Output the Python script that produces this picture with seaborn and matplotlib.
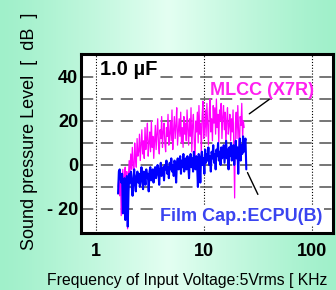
import numpy as np
import pandas as pd
import matplotlib
matplotlib.use("Agg")
import matplotlib.pyplot as plt
import seaborn as sns
from matplotlib.ticker import FixedLocator, NullLocator

# frequency sweep of each measurement (kHz)
mlcc_start, mlcc_stop = 1.6, 23.5
film_start, film_stop = 1.6, 24.6

# sound pressure level (dB)
mlcc_db = [-10, -6, -14, -4, -23, -8, -2, -12, -5, -1, -9,
           -3, -29, -6, 2, -4, 5, -2, 8, 0, -5, 10, 3, -1, 12, 4,
           6, 14, 2, 9, 16, 5, 11, 3, 17, 7, 12, 19, 4, 10, 15, 6, 20, 8, 13, 3,
           11, 18, 7, 14, 21, 9, 5, 16, 12, 22, 8, 15, 19, 10, 6, 17, 13, 23, 9, 14,
           20, 11, 25, 7, 16, 22, 12, 18, 26, 9, 15, 21, 13, 24, 10, 17, 8, 22, 14, 19,
           11, 25, 16, 9, 21, 13, 26, 6, 18, 23, 12, 0, 20, 15, 24,
           10, 27, 14, 19, 5, 22, 29, 12, 17, 25,
           13, 28, 18, 9, 24, 30, 15, 21, 11, 27, 19, 26, 14, 30, 17, 23, 10, 25, 20, 28,
           12, 22, 27, 16, 24, 9, 20, 26, 14, 18, 23, 11, 21, 15, 25,
           8, -15, 19, 24, 12, 27, 16, 5, 22, 18, 28, 13, 20, 17]

film_db = [-13, -3, -2, -6, -8, -4, -22, -10, -6, -25, -9,
           -5, -28, -12, -4, -8, -3, -10, -14, -6, -2, -9, -12, -5, -3, -8,
           -4, -10, -6, -1, -7, -11, -3, -5, -9, -2, -6, -4, -12, -3, -1, -7, -5, -2, -8, -3,
           -1, -6, -4, 0, -3, -9, -2, 1, -5, -3, -1, -7, 0, -2, 2, -4, -1, -6, 1, -2,
           3, -3, 0, -5, 2, -1, -8, 1, 3, -2, 0, 4, -4, 2, -1, 5, -3, 1, 3, -2,
           4, 0, -6, 2, 5, -1, 3, -3, 6, 1, -2, 4, 0, -10, 5,
           2, -8, 4, 6, 0, 3, -4, 7, 1, 5,
           2, 8, 0, 4, -3, 6, 3, 9, 1, 5, -2, 7, 4, 10, 2, 6, 0, 8, 3, 5,
           9, 1, 6, 11, 3, 7, -2, 8, 4, 10, 2, 6, 9, 0, 5,
           11, 3, 8, -4, 7, 12, 2, 9, 5, 13, 6, 10, 12, -2]

yticks = [-20, 0, 20, 40]
ytick_labels = ["- 20", "0", "20", "40"]
ygrid_minor = [-10, 10, 30]
xticks = [1, 10, 100]
xtick_labels = ["1", "10", "100"]

mlcc = pd.DataFrame({"freq": np.geomspace(mlcc_start, mlcc_stop, len(mlcc_db)), "db": mlcc_db})
film = pd.DataFrame({"freq": np.geomspace(film_start, film_stop, len(film_db)), "db": film_db})

sns.set_theme(style="white")
plt.rcParams["font.family"] = ["Liberation Sans", "DejaVu Sans"]

fig = plt.figure(figsize=(3.36, 2.90), dpi=100)

# mint background, lighter in the middle
bg = fig.add_axes([0, 0, 1, 1], zorder=-5)
edge = np.array([160, 240, 202]) / 255
mid = np.array([228, 255, 242]) / 255
t = np.linspace(0, 1, 336)
w = np.clip(1 - np.abs(t - 0.5) / 0.5, 0, 1) ** 1.2
grad = edge[None, :] + (mid - edge)[None, :] * w[:, None]
bg.imshow(grad[None, :, :], aspect="auto", extent=[0, 1, 0, 1])
bg.set_axis_off()

ax = fig.add_axes([0.241, 0.1966, 0.75, 0.6155])
ax.set_facecolor("white")

sns.lineplot(data=mlcc, x="freq", y="db", ax=ax, color="#ff00ff", lw=0.9,
             estimator=None, sort=False)
sns.lineplot(data=film, x="freq", y="db", ax=ax, color="#0000ff", lw=1.5,
             estimator=None, sort=False)

ax.set_xscale("log")
ax.set_xlim(0.726, 156)
ax.set_ylim(-30.9, 50.2)

ax.xaxis.set_major_locator(FixedLocator(xticks))
ax.xaxis.set_minor_locator(NullLocator())
ax.set_xticklabels(xtick_labels)
ax.yaxis.set_major_locator(FixedLocator(yticks))
ax.yaxis.set_minor_locator(FixedLocator(ygrid_minor))
ax.set_yticklabels(ytick_labels)

ax.set_axisbelow(True)
ax.grid(axis="y", which="both", color="#505050", lw=1.1, ls=(0, (8, 5)))
ax.grid(axis="x", which="major", color="black", lw=0.8, ls=(0, (1, 1.6)))

ax.tick_params(axis="both", which="both", length=0)
ax.tick_params(axis="y", pad=2, labelsize=13)
ax.tick_params(axis="x", pad=7, labelsize=13)
for lab in ax.get_xticklabels() + ax.get_yticklabels():
    lab.set_fontweight("bold")
    lab.set_color("black")

for sp in ax.spines.values():
    sp.set_visible(True)
    sp.set_color("black")
    sp.set_linewidth(2.2)

ax.set_xlabel("")
ax.set_ylabel("")

ax.text(1.08, 43.3, "1.0 \u00b5F", fontsize=14.5, fontweight="bold", color="black",
        va="center", ha="left",
        bbox=dict(boxstyle="square,pad=0.12", fc="white", ec="none"))
ax.text(0.718, 0.8, "MLCC (X7R)", transform=ax.transAxes, fontsize=13,
        fontweight="bold", color="#ff1ef0", ha="center", va="center")
ax.text(0.635, 0.095, "Film Cap.:ECPU(B)", transform=ax.transAxes, fontsize=13,
        fontweight="bold", color="#3a44f0", ha="center", va="center",
        bbox=dict(boxstyle="square,pad=0.1", fc="white", ec="none"))

ax.annotate("", xy=(25, 22.5), xytext=(42, 30.5),
            arrowprops=dict(arrowstyle="-", color="black", lw=1))
ax.annotate("", xy=(24.6, -2.3), xytext=(32.3, -14.5),
            arrowprops=dict(arrowstyle="-", color="black", lw=1))

fig.text(0.089, 0.548, "Sound pressure Level  [  dB  ]", rotation=90,
         fontsize=13, ha="center", va="center", color="black")
fig.text(0.14, 0.034, "Frequency of Input Voltage:5Vrms [ KHz",
         fontsize=11.3, ha="left", va="center", color="black")

fig.savefig("out.png", dpi=100)
